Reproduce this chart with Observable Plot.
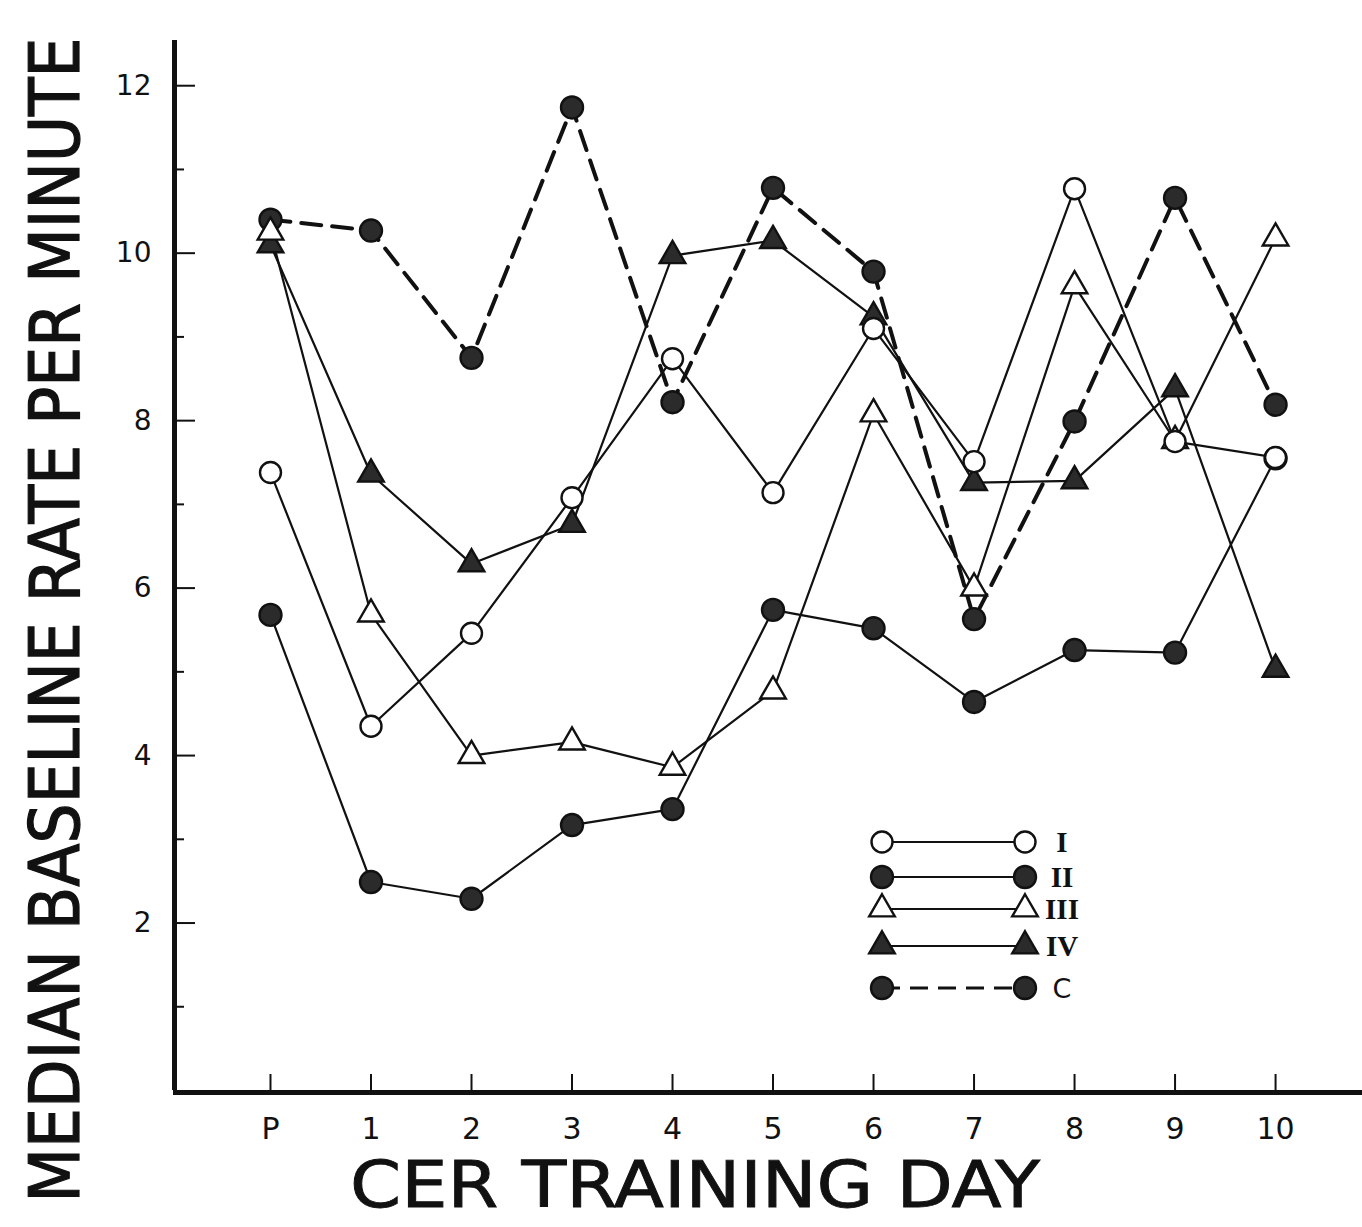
<!DOCTYPE html>
<html>
<head>
<meta charset="utf-8">
<script src="https://cdn.jsdelivr.net/npm/d3@7"></script>
<script src="https://cdn.jsdelivr.net/npm/@observablehq/plot@0.6"></script>
<style>
  html, body { margin: 0; padding: 0; background: #ffffff; }
  #chart { width: 1362px; height: 1227px; }
</style>
</head>
<body>
<div id="chart"></div>
<script>
// ---- data ----
const days = ["P", "1", "2", "3", "4", "5", "6", "7", "8", "9", "10"];
const groupI   = [7.38, 4.35, 5.46, 7.08, 8.74, 7.14, 9.10, 7.51, 10.77, 7.75, 7.56];
const groupII  = [5.68, 2.49, 2.29, 3.17, 3.36, 5.74, 5.52, 4.64, 5.26, 5.23, 7.55];
const groupIII = [10.25, 5.69, 4.00, 4.16, 3.86, 4.77, 8.08, 6.00, 9.61, 7.76, 10.18];
const groupIV  = [10.10, 7.36, 6.29, 6.76, 9.97, 10.15, 9.24, 7.26, 7.28, 8.38, 5.03];
const groupC   = [10.40, 10.27, 8.75, 11.74, 8.22, 10.78, 9.78, 5.63, 7.99, 10.66, 8.19];
const seriesNames = ["I", "II", "III", "IV", "C"];
const yTickValues = [1, 2, 3, 4, 5, 6, 7, 8, 9, 10, 11, 12];
const yTickLabels = [2, 4, 6, 8, 10, 12];
const xTitle = "CER TRAINING DAY";
const yTitle = "MEDIAN BASELINE RATE PER MINUTE";

// ---- styles ----
const styles = {
  "I":   {symbol: "circle",   fill: "white",   dash: null, r: 10.5},
  "II":  {symbol: "circle",   fill: "#2b2b2b", dash: null, r: 11},
  "III": {symbol: "triangle", fill: "white",   dash: null, r: 9.5},
  "IV":  {symbol: "triangle", fill: "#2b2b2b", dash: null, r: 9.5},
  "C":   {symbol: "circle",   fill: "#2b2b2b", dash: "20,11", r: 11}
};
const values = {"I": groupI, "II": groupII, "III": groupIII, "IV": groupIV, "C": groupC};
const rows = seriesNames.flatMap(s => values[s].map((v, i) => ({series: s, i, v})));

const W = 1362, H = 1227;
const xDomain = [-0.965, 10.865];
const yDomain = [0, 12.54];
const pxPerX = (W - 173) / (xDomain[1] - xDomain[0]);
const pxPerY = (H - 40 - 137) / (yDomain[1] - yDomain[0]);

const marks = [];
// axes frame
marks.push(Plot.ruleX([xDomain[0]], {y1: 0, y2: yDomain[1], stroke: "#111", strokeWidth: 5, dx: 1}));
marks.push(Plot.ruleY([0], {x1: xDomain[0], x2: xDomain[1], stroke: "#111", strokeWidth: 5, dy: 2}));
// y ticks (inward)
marks.push(Plot.ruleY(yTickValues, {
  x1: xDomain[0],
  x2: d => xDomain[0] + (d % 2 === 0 ? 22 : 11) / pxPerX,
  stroke: "#111", strokeWidth: 2
}));
// x ticks (upward)
marks.push(Plot.ruleX(days.map((d, i) => i), {y1: 0, y2: 16 / pxPerY, stroke: "#111", strokeWidth: 2}));
// tick labels
marks.push(Plot.text(yTickLabels, {
  x: xDomain[0], y: d => d, text: d => String(d), textAnchor: "end", dx: -22,
  fontSize: 28, fill: "#111", fontFamily: "DejaVu Sans"
}));
marks.push(Plot.text(days, {
  x: (d, i) => i, y: 0, text: d => d, dy: 39,
  fontSize: 30, fill: "#111", fontFamily: "DejaVu Sans"
}));
// lines
for (const s of seriesNames) {
  const st = styles[s];
  marks.push(Plot.line(rows.filter(r => r.series === s), {
    x: "i", y: "v", stroke: "#111",
    strokeWidth: st.dash ? 4 : 2.2,
    strokeDasharray: st.dash || undefined
  }));
}
// markers
for (const s of ["II", "C", "IV", "III", "I"]) {
  const st = styles[s];
  marks.push(Plot.dot(rows.filter(r => r.series === s), {
    x: "i", y: "v", symbol: st.symbol, r: st.r,
    fill: st.fill, stroke: "#111", strokeWidth: 2.4
  }));
}

const chart = Plot.plot({
  width: W, height: H,
  marginLeft: 173, marginRight: 0, marginTop: 40, marginBottom: 137,
  x: {domain: xDomain, axis: null},
  y: {domain: yDomain, axis: null},
  style: {background: "white", fontFamily: "DejaVu Sans", overflow: "visible"},
  marks
});
document.getElementById("chart").appendChild(chart);

// ---- titles and legend ----
const svg = d3.select(chart);
svg.append("text")
  .attr("x", 695).attr("y", 1207)
  .attr("text-anchor", "middle")
  .attr("font-family", "DejaVu Sans Condensed, DejaVu Sans")
  .attr("font-size", 64)
  .attr("fill", "#111").attr("stroke", "#111").attr("stroke-width", 0.8)
  .attr("textLength", 690).attr("lengthAdjust", "spacingAndGlyphs")
  .text(xTitle);
svg.append("text")
  .attr("transform", "translate(79,620) rotate(-90)")
  .attr("text-anchor", "middle")
  .attr("font-family", "DejaVu Sans Condensed, DejaVu Sans")
  .attr("font-size", 70)
  .attr("fill", "#111").attr("stroke", "#111").attr("stroke-width", 1.2)
  .attr("textLength", 1165).attr("lengthAdjust", "spacingAndGlyphs")
  .text(yTitle);

const legendRowsY = [842, 877, 909, 946, 988];
const lg = svg.append("g");
seriesNames.forEach((s, k) => {
  const st = styles[s];
  const y = legendRowsY[k];
  lg.append("line").attr("x1", 882).attr("x2", 1025).attr("y1", y).attr("y2", y)
    .attr("stroke", "#111").attr("stroke-width", st.dash ? 3 : 2.2)
    .attr("stroke-dasharray", st.dash ? "18,10" : null);
  const sym = d3.symbol(st.symbol === "circle" ? d3.symbolCircle : d3.symbolTriangle, Math.PI * st.r * st.r);
  for (const x of [882, 1025]) {
    lg.append("path").attr("d", sym()).attr("transform", `translate(${x},${y})`)
      .attr("fill", st.fill).attr("stroke", "#111").attr("stroke-width", 2.4);
  }
  lg.append("text").attr("x", 1062).attr("y", y).attr("dy", "0.36em")
    .attr("font-family", s === "C" ? "DejaVu Sans" : "Liberation Serif")
    .attr("font-weight", s === "C" ? "normal" : "bold")
    .attr("font-size", s === "C" ? 27 : 29)
    .attr("fill", "#111")
    .text(s);
});
</script>
</body>
</html>
